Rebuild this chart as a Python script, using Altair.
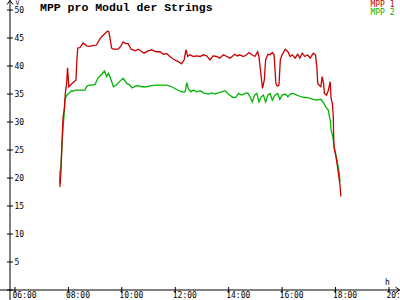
import altair as alt
import pandas as pd

series_names = ["MPP 1", "MPP 2"]
series_colors = ["#c80000", "#00b400"]

mpp1_times = ["07:41", "07:43", "07:45", "07:46", "07:48", "07:51", "07:53", "07:56", "07:58",
              "08:01", "08:07", "08:17", "08:19", "08:21", "08:26", "08:33", "08:41", "08:48",
              "08:52", "09:03", "09:11", "09:18", "09:28", "09:31", "09:37", "09:41", "09:52",
              "09:58", "10:03", "10:09", "10:14", "10:21", "10:30", "10:37", "10:45", "10:50",
              "10:59", "11:07", "11:11", "11:18", "11:26", "11:33", "11:41", "11:48", "11:56",
              "12:07", "12:14", "12:20", "12:24", "12:28", "12:33", "12:41", "12:48", "12:56",
              "13:03", "13:11", "13:18", "13:25", "13:33", "13:40", "13:48", "13:56", "14:03",
              "14:14", "14:19", "14:25", "14:33", "14:40", "14:46", "14:52", "14:59", "15:05",
              "15:08", "15:13", "15:16", "15:20", "15:23", "15:28", "15:33", "15:38", "15:42",
              "15:46", "15:49", "15:53", "15:56", "16:00", "16:07", "16:13", "16:18", "16:23",
              "16:29", "16:35", "16:40", "16:45", "16:51", "16:57", "17:03", "17:10", "17:15",
              "17:18", "17:20", "17:23", "17:27", "17:30", "17:33", "17:35", "17:40", "17:44",
              "17:48", "17:50", "17:53", "17:55", "17:56", "17:57", "18:01", "18:04", "18:07",
              "18:10", "18:12"]
mpp1_values = [18.4, 20.8, 25.0, 27.1, 30.9, 32.4, 35.1, 36.9, 39.7,
               36.3, 36.8, 37.5, 41.1, 43.2, 43.3, 44.1, 43.6, 43.5,
               43.6, 43.75, 44.9, 45.5, 46.25, 46.1, 43.2, 43.0, 43.0,
               43.6, 44.3, 44.0, 44.0, 43.0, 42.7, 43.0, 42.55, 42.3,
               42.7, 42.9, 42.7, 42.55, 42.55, 42.1, 42.2, 41.7, 41.2,
               40.8, 40.4, 41.1, 42.9, 41.7, 42.0, 41.7, 41.8, 41.7,
               42.0, 41.8, 41.1, 41.8, 41.7, 41.4, 42.0, 41.7, 41.4,
               42.1, 41.8, 42.0, 41.7, 42.0, 42.4, 42.0, 41.7, 42.55,
               41.7, 38.1, 36.0, 37.5, 41.1, 42.1, 42.0, 42.4, 42.0,
               36.9, 36.4, 36.6, 41.1, 42.0, 43.0, 42.55, 41.7, 42.0,
               41.4, 42.1, 41.4, 42.3, 41.7, 42.0, 41.4, 42.3, 42.0,
               39.9, 36.9, 36.6, 36.3, 38.1, 36.9, 35.1, 34.8, 35.7,
               37.2, 34.2, 33.3, 31.0, 26.8, 25.3, 23.8, 22.3, 20.5,
               18.75, 16.7]

mpp2_times = ["07:40", "07:41", "07:43", "07:45", "07:47", "07:50", "07:52", "07:56", "08:02",
              "08:07", "08:11", "08:16", "08:26", "08:37", "08:41", "08:45", "08:52", "09:00",
              "09:06", "09:13", "09:21", "09:26", "09:30", "09:36", "09:41", "09:48", "09:56",
              "10:03", "10:11", "10:18", "10:23", "10:33", "10:45", "10:56", "11:07", "11:18",
              "11:41", "11:52", "12:03", "12:14", "12:22", "12:26", "12:29", "12:35", "12:41",
              "12:48", "12:56", "13:03", "13:14", "13:22", "13:29", "13:37", "13:44", "13:52",
              "13:59", "14:09", "14:16", "14:22", "14:29", "14:37", "14:43", "14:48", "14:53",
              "14:58", "15:03", "15:08", "15:13", "15:18", "15:23", "15:28", "15:33", "15:38",
              "15:44", "15:50", "15:55", "16:00", "16:07", "16:13", "16:18", "16:25", "16:33",
              "16:40", "16:48", "16:55", "17:03", "17:10", "17:18", "17:27", "17:33", "17:38",
              "17:44", "17:46", "17:48", "17:50", "17:54", "17:57", "18:01", "18:04", "18:08",
              "18:10"]
mpp2_values = [19.0, 21.1, 22.0, 25.0, 28.0, 31.0, 33.9, 34.8, 35.2,
               35.6, 35.5, 35.7, 35.7, 35.7, 36.3, 36.6, 36.6, 36.7,
               37.8, 38.4, 39.1, 38.1, 38.7, 37.5, 36.3, 36.6, 37.3,
               37.8, 36.9, 36.6, 36.1, 36.5, 36.3, 36.3, 36.5, 36.6,
               36.6, 36.3, 35.8, 35.4, 35.4, 37.05, 36.0, 35.4, 35.7,
               35.4, 35.6, 35.2, 35.0, 35.2, 35.0, 35.2, 35.4, 35.6,
               35.0, 34.4, 34.4, 35.1, 34.8, 35.1, 35.2, 34.5, 33.6,
               34.8, 35.1, 33.6, 34.5, 34.8, 33.6, 34.8, 35.1, 33.9,
               34.8, 35.1, 34.05, 34.8, 35.0, 34.5, 35.0, 35.1, 34.8,
               34.6, 34.4, 34.4, 34.2, 34.05, 33.9, 34.05, 33.45, 32.7,
               32.1, 31.0, 30.4, 28.6, 27.4, 25.6, 24.1, 22.9, 21.1,
               19.3]

y_tick_values = [0, 5, 10, 15, 20, 25, 30, 35, 40, 45, 50]
y_label_values = [5, 10, 15, 20, 25, 30, 35, 40, 45, 50]
x_tick_values = [6, 8, 10, 12, 14, 16, 18, 20]

title_text = "MPP pro Modul der Strings"
y_unit = "V"
x_unit = "h"


def to_hours(t):
    h, m = t.split(":")
    return int(h) + int(m) / 60.0


frames = []
for name, times, vals in [(series_names[0], mpp1_times, mpp1_values),
                          (series_names[1], mpp2_times, mpp2_values)]:
    frames.append(pd.DataFrame({"series": name,
                                "hour": [to_hours(t) for t in times],
                                "value": vals}))
df = pd.concat(frames, ignore_index=True)

FONT = "DejaVu Sans Mono"
x_scale = alt.Scale(domain=[5.813, 20.414], nice=False, zero=False)
y_scale = alt.Scale(domain=[0, 51.79], nice=False, zero=False)

x_axis = alt.Axis(values=x_tick_values,
                  labelExpr="(datum.value < 10 ? '0' : '') + datum.value + ':00'",
                  ticks=False, domain=False, grid=False, title=None,
                  labelAlign="left", labelBaseline="top", labelOffset=-3, labelPadding=1,
                  labelFont=FONT, labelFontSize=8, labelColor="black",
                  labelOverlap=False, labelFlush=False, labelBound=False)
y_axis = alt.Axis(values=y_label_values, ticks=False, domain=False, grid=False, title=None,
                  labelAlign="left", labelBaseline="middle", labelPadding=-4,
                  labelFont=FONT, labelFontSize=8, labelColor="black",
                  labelOverlap=False, labelFlush=False, labelBound=False)

one = pd.DataFrame({"a": [0]})

layers = []

# axis lines
layers.append(alt.Chart(one).mark_rule(color="black", strokeWidth=1).encode(
    x=alt.value(0), y=alt.value(0), y2=alt.value(300)))
layers.append(alt.Chart(one).mark_rule(color="black", strokeWidth=1).encode(
    x=alt.value(-10), x2=alt.value(390), y=alt.value(290)))

# tick marks crossing the axes
layers.append(alt.Chart(pd.DataFrame({"v": y_tick_values})).mark_rule(color="black").encode(
    y=alt.Y("v:Q", scale=y_scale, axis=y_axis), x=alt.value(-3), x2=alt.value(3)))
layers.append(alt.Chart(pd.DataFrame({"h": x_tick_values})).mark_rule(color="black").encode(
    x=alt.X("h:Q", scale=x_scale, axis=x_axis), y=alt.value(287), y2=alt.value(293)))

# arrows
layers.append(alt.Chart(one).mark_point(shape="M-1,1.33L0,0L1,1.33", filled=False,
                                        stroke="black", strokeWidth=1, size=36, opacity=1).encode(
    x=alt.value(0), y=alt.value(0.5)))
layers.append(alt.Chart(one).mark_point(shape="M-1.33,-1L0,0L-1.33,1", filled=False,
                                        stroke="black", strokeWidth=1, size=36, opacity=1).encode(
    x=alt.value(389.5), y=alt.value(290)))

# lines (green below, red on top)
for name, color in reversed(list(zip(series_names, series_colors))):
    layers.append(alt.Chart(df).transform_filter(alt.datum.series == name).mark_line(
        color=color, strokeWidth=1.3, interpolate="linear").encode(
        x=alt.X("hour:Q", scale=x_scale, axis=x_axis),
        y=alt.Y("value:Q", scale=y_scale, axis=y_axis)))

# title and units
layers.append(alt.Chart(one).mark_text(text=title_text, font="Liberation Mono", fontWeight="bold",
                                       fontSize=11.5, align="left", baseline="alphabetic",
                                       color="black").encode(x=alt.value(30), y=alt.value(10.7)))
layers.append(alt.Chart(one).mark_text(text=y_unit, font=FONT, fontSize=6.5, align="left",
                                       baseline="alphabetic", color="black").encode(
    x=alt.value(5.5), y=alt.value(5.2)))
layers.append(alt.Chart(one).mark_text(text=x_unit, font=FONT, fontSize=8, align="left",
                                       baseline="alphabetic", color="black").encode(
    x=alt.value(375), y=alt.value(284.5)))

# legend
for i, (name, color) in enumerate(zip(series_names, series_colors)):
    layers.append(alt.Chart(one).mark_text(text=name, font=FONT, fontSize=8, align="right",
                                           baseline="alphabetic", color=color).encode(
        x=alt.value(384.5), y=alt.value(7 + 7.5 * i)))

chart = alt.layer(*layers).properties(
    width=390, height=290,
    autosize=alt.AutoSizeParams(type="none"),
    padding={"left": 10, "top": 0, "right": 0, "bottom": 10},
    background="white",
).configure_view(strokeWidth=0)

chart.save("out.html", embed_options={"renderer": "svg", "actions": False})
